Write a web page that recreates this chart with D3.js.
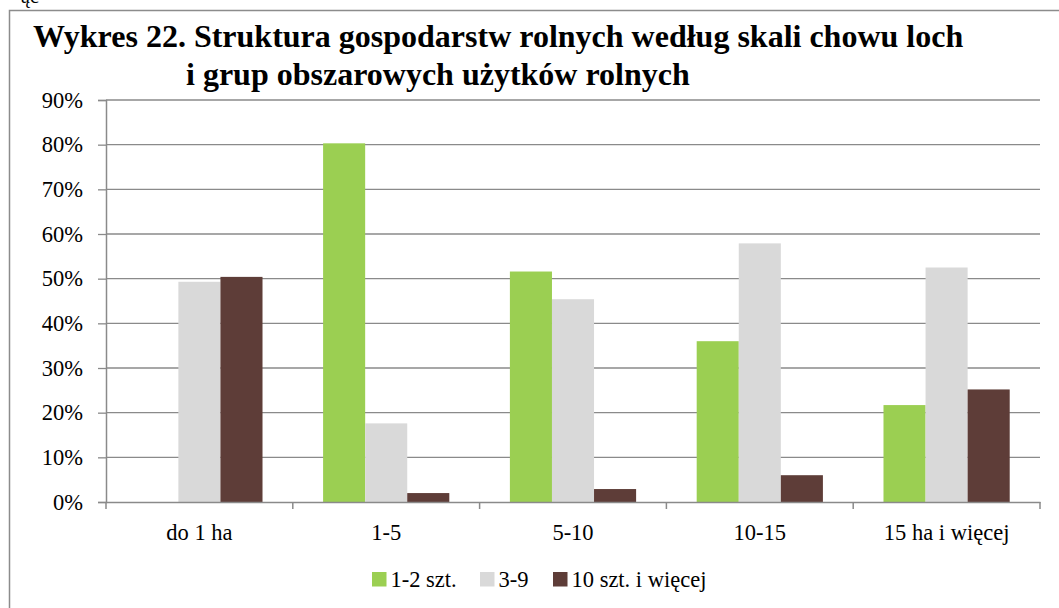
<!DOCTYPE html>
<html>
<head>
<meta charset="utf-8">
<script src="https://cdn.jsdelivr.net/npm/d3@7"></script>
<style>
  body { margin: 0; background: #fff; }
  svg text { font-family: "Liberation Serif", "Times New Roman", serif; fill: #000; }
</style>
</head>
<body>
<svg id="chart" width="1059" height="608"></svg>
<script>
var categories = ['do 1 ha', '1-5', '5-10', '10-15', '15 ha i więcej'];
var seriesNames = ['1-2 szt.', '3-9', '10 szt. i więcej'];
var series1 = [0, 80.3, 51.6, 36.0, 21.7];
var series2 = [49.3, 17.6, 45.4, 57.9, 52.5];
var series3 = [50.4, 2.0, 2.9, 6.0, 25.2];
var yTicks = [0, 10, 20, 30, 40, 50, 60, 70, 80, 90];
var colors = ['#9bcf52', '#d9d9d9', '#5e3d38'];

var svg = d3.select('#chart');
var margin = {left: 106, right: 1040, top: 100, bottom: 502};
var fontSize = '22.5px';

// cut-off text from the page above
svg.append('text').attr('x', 21).attr('y', 3)
    .style('font-size', '20px').text('ąc');

// frame
svg.append('rect')
    .attr('x', 9.5).attr('y', 10.5)
    .attr('width', 1070).attr('height', 620)
    .attr('fill', 'none')
    .attr('stroke', '#8c8c8c')
    .attr('stroke-width', 1.5);

// title
var title = svg.append('text')
    .attr('font-weight', 'bold')
    .style('font-size', '32px');
title.append('tspan').attr('x', 33).attr('y', 47)
    .text('Wykres 22. Struktura gospodarstw rolnych według skali chowu loch');
title.append('tspan').attr('x', 186).attr('y', 85)
    .text('i grup obszarowych użytków rolnych');

var x = d3.scaleBand().domain(categories).range([margin.left, margin.right]).paddingInner(0).paddingOuter(0);
var xInner = d3.scaleBand().domain(seriesNames).range([0, x.bandwidth()]).paddingInner(0).paddingOuter(0.72);
var y = d3.scaleLinear().domain([0, 90]).range([margin.bottom, margin.top]);

// gridlines
svg.append('g').selectAll('line')
    .data(yTicks.slice(1))
    .join('line')
    .attr('x1', margin.left).attr('x2', margin.right)
    .attr('y1', function(d) { return y(d); })
    .attr('y2', function(d) { return y(d); })
    .attr('stroke', '#8a8a8a')
    .attr('stroke-width', 1.3);

// bars
var allSeries = [series1, series2, series3];
var rows = [];
categories.forEach(function(c, i) {
    seriesNames.forEach(function(s, j) {
        rows.push({cat: c, name: s, idx: j, value: allSeries[j][i]});
    });
});

svg.append('g').selectAll('rect')
    .data(rows.filter(function(d) { return d.value > 0; }))
    .join('rect')
    .attr('x', function(d) { return x(d.cat) + xInner(d.name); })
    .attr('width', xInner.bandwidth())
    .attr('y', function(d) { return y(d.value); })
    .attr('height', function(d) { return y(0) - y(d.value); })
    .attr('fill', function(d) { return colors[d.idx]; });

// y axis
var yAxis = svg.append('g')
    .attr('transform', 'translate(' + margin.left + ',0)')
    .call(d3.axisLeft(y).tickValues(yTicks).tickSize(8).tickPadding(15)
        .tickFormat(function(d) { return d + '%'; }));
yAxis.select('.domain').attr('stroke', '#8a8a8a').attr('stroke-width', 1.5);
yAxis.selectAll('.tick line').attr('stroke', '#8a8a8a').attr('stroke-width', 1.3);
yAxis.selectAll('.tick text').style('font-size', fontSize).attr('font-family', '"Liberation Serif", serif');

// x axis
var xAxis = svg.append('g')
    .attr('transform', 'translate(0,' + margin.bottom + ')')
    .call(d3.axisBottom(x).tickSize(0).tickPadding(0));
xAxis.select('.domain').attr('stroke', '#8a8a8a').attr('stroke-width', 1.5);
xAxis.selectAll('.tick text')
    .attr('dy', null).attr('y', 38)
    .style('font-size', fontSize).attr('font-family', '"Liberation Serif", serif');

var boundaries = categories.map(function(c) { return x(c); }).concat([margin.right]);
xAxis.selectAll('.bound')
    .data(boundaries)
    .join('line')
    .attr('class', 'bound')
    .attr('x1', function(d) { return d; }).attr('x2', function(d) { return d; })
    .attr('y1', 0).attr('y2', 7)
    .attr('stroke', '#8a8a8a').attr('stroke-width', 1.5);

// legend
var legendX = [372, 480, 553];
var legend = svg.append('g').selectAll('g')
    .data(seriesNames)
    .join('g')
    .attr('transform', function(d, i) { return 'translate(' + legendX[i] + ',572)'; });
legend.append('rect')
    .attr('width', 14.5).attr('height', 14.5)
    .attr('fill', function(d, i) { return colors[i]; });
legend.append('text')
    .attr('x', 18.5).attr('y', 14.5)
    .style('font-size', fontSize)
    .text(function(d) { return d; });
</script>
</body>
</html>
